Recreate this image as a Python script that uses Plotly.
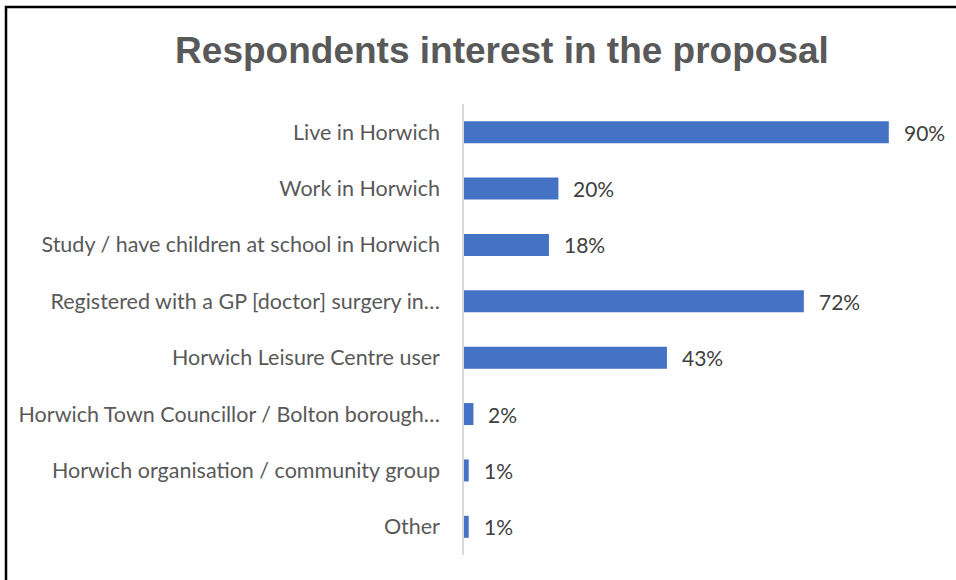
import plotly.graph_objects as go

categories = [
    "Live in Horwich",
    "Work in Horwich",
    "Study / have children at school in Horwich",
    "Registered with a GP [doctor] surgery in…",
    "Horwich Leisure Centre user",
    "Horwich Town Councillor / Bolton borough…",
    "Horwich organisation / community group",
    "Other",
]
values = [0.90, 0.20, 0.18, 0.72, 0.43, 0.02, 0.01, 0.01]
value_labels = ["90%", "20%", "18%", "72%", "43%", "2%", "1%", "1%"]
title_text = "Respondents interest in the proposal"

W, H = 956, 580
ML, MR, MT, MB = 464, 20, 104, 25
pw = W - ML - MR
ph = H - MT - MB

def px_x(x):
    return (x - ML) / pw

def px_y(y):
    return 1 - (y - MT) / ph

fig = go.Figure()
fig.add_trace(go.Bar(
    x=values, y=categories, orientation="h",
    marker=dict(color="#4472C4", line=dict(width=0)),
    hoverinfo="skip",
))

for v, c, t in zip(values, categories, value_labels):
    fig.add_annotation(x=v, y=c, text=t, xref="x", yref="y", showarrow=False,
                       xanchor="left", yanchor="middle", xshift=13,
                       font=dict(family="Lato, Open Sans, sans-serif", size=21, color="#404040"))

fig.update_layout(
    width=W, height=H,
    margin=dict(l=ML, r=MR, t=MT, b=MB),
    paper_bgcolor="white", plot_bgcolor="white",
    bargap=0.61,
    showlegend=False,
    title=dict(text="<b>" + title_text + "</b>", x=502 / W, xanchor="center",
               y=1 - 50 / H, yanchor="middle", yref="container",
               font=dict(family="Liberation Sans, Arial, sans-serif", size=37, color="#595959")),
    xaxis=dict(range=[0, 1.0], showgrid=False, zeroline=False, showticklabels=False,
               showline=False, fixedrange=True),
    yaxis=dict(autorange="reversed", showgrid=False, zeroline=False,
               showline=True, linecolor="#d9d9d9", linewidth=1.5,
               ticks="", ticklabelstandoff=18, fixedrange=True,
               tickfont=dict(family="Lato, Open Sans, sans-serif", size=21.5, color="#595959")),
    shapes=[dict(type="rect", xref="paper", yref="paper",
                 x0=px_x(6), x1=px_x(W + 20), y0=px_y(H + 20), y1=px_y(7),
                 line=dict(color="black", width=2.5), fillcolor="rgba(0,0,0,0)", layer="above")],
)

fig.write_html("out.html", config={"displayModeBar": False},
               post_script="document.body.style.margin='0';document.body.style.overflow='hidden';")
